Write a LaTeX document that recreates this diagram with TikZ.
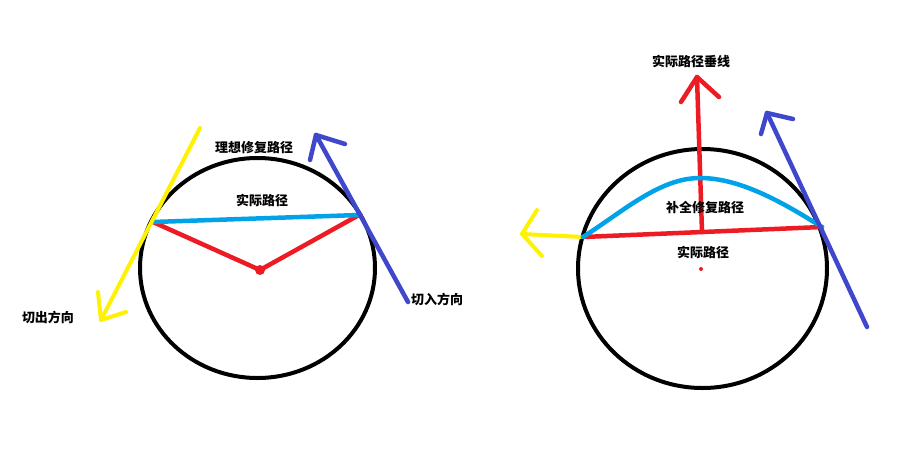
\documentclass[tikz,border=0pt]{standalone}
\usepackage{fontspec}
\newfontfamily\cjk{Noto Sans CJK SC}
\definecolor{pyellow}{RGB}{255,242,0}
\definecolor{pblue}{RGB}{63,72,204}
\definecolor{pred}{RGB}{237,28,36}
\definecolor{pcyan}{RGB}{0,162,232}
\tikzset{
  circ/.style={draw=black, line width=4pt},
  stroke/.style={line width=4.5pt, line cap=round, line join=round},
  lbl/.style={font=\cjk\bfseries\fontsize{13pt}{13pt}\selectfont, inner sep=1pt, text=black}
}
\begin{document}
\begin{tikzpicture}[x=1pt,y=-1pt]
\useasboundingbox[fill=white] (0,0) rectangle (914,448);
% ---------- left figure ----------
\coordinate (C1) at (257.5,268);
\draw[circ] (C1) ellipse [x radius=117.5pt, y radius=110pt];
\coordinate (A1) at (153,222);
\coordinate (B1) at (359,215);
\coordinate (O1) at (260,270);
\draw[stroke, pred] (A1) -- (O1) -- (B1);
\draw[stroke, pcyan] (A1) -- (B1);
\fill[pred] (O1) circle (5pt);
% yellow (exit) direction
\coordinate (Y1s) at (200,128);
\coordinate (Y1t) at (101,320);
\coordinate (Y1a) at (98,292);
\coordinate (Y1b) at (126,312);
\draw[stroke, pyellow, line width=4pt] (Y1s) -- (Y1t);
\draw[stroke, pyellow, line width=4pt] (Y1a) -- (Y1t) -- (Y1b);
% blue (entry) direction
\coordinate (L1s) at (408,302);
\coordinate (L1t) at (316,135);
\coordinate (L1a) at (310,160);
\coordinate (L1b) at (345,144);
\draw[stroke, pblue] (L1s) -- (L1t);
\draw[stroke, pblue] (L1a) -- (L1t) -- (L1b);
\node[lbl] (t1) at (254,148) {理想修复路径};
\node[lbl] (t2) at (262,200) {实际路径};
\node[lbl] (t3) at (48,317) {切出方向};
\node[lbl] (t4) at (437,299) {切入方向};
% ---------- right figure ----------
\coordinate (C2) at (702.5,268.5);
\draw[circ] (C2) ellipse [x radius=124.5pt, y radius=119.5pt];
\coordinate (A2) at (583,237);
\coordinate (B2) at (822,227);
\coordinate (P2) at (702,232);
\coordinate (O2) at (701,269);
% yellow exit
\coordinate (Y2t) at (522,234);
\coordinate (Y2a) at (537,210);
\coordinate (Y2b) at (542,256);
\draw[stroke, pyellow, line width=4pt] (A2) -- (Y2t);
\draw[stroke, pyellow, line width=4pt] (Y2a) -- (Y2t) -- (Y2b);
% red chord and perpendicular
\draw[stroke, pred] (A2) -- (B2);
\coordinate (R2t) at (697,77);
\coordinate (R2a) at (681,102);
\coordinate (R2b) at (719,97);
\draw[stroke, pred] (P2) -- (R2t);
\draw[stroke, pred] (R2a) -- (R2t) -- (R2b);
\fill[pred] (O2) circle (2pt);
% cyan completed path
\coordinate (K2) at (700,178);
\draw[stroke, pcyan] (A2) .. controls (625,210) and (660,178) .. (K2)
                          .. controls (740,178) and (782,202) .. (B2);
% blue entry
\coordinate (L2s) at (867,327);
\coordinate (L2t) at (767,113);
\coordinate (L2a) at (761,134);
\coordinate (L2b) at (793,119);
\draw[stroke, pblue] (L2s) -- (L2t);
\draw[stroke, pblue] (L2a) -- (L2t) -- (L2b);
\node[lbl] (t5) at (691,61) {实际路径垂线};
\node[lbl] (t6) at (705,207) {补全修复路径};
\node[lbl] (t7) at (703,252) {实际路径};
\end{tikzpicture}
\end{document}
